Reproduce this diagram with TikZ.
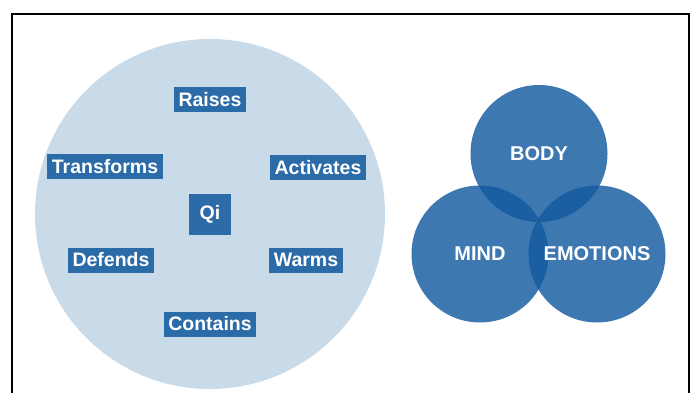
\documentclass[tikz,border=0pt]{standalone}
\usepackage{fontspec}
\setmainfont{Liberation Sans}
\definecolor{qilight}{HTML}{C9DAE8}
\definecolor{qibox}{HTML}{2B6BA8}
\definecolor{vennblue}{RGB}{20,90,160}

\begin{document}
\begin{tikzpicture}[x=1pt,y=-1pt,
	tag/.style={fill=qibox,text=white,inner xsep=4.5pt,inner ysep=0pt,minimum height=25pt,
		font=\bfseries\fontsize{19.5}{22}\selectfont},
	part/.style={circle,fill=vennblue,fill opacity=0.82,text opacity=1,text=white,
		minimum size=137pt,inner sep=0pt,font=\bfseries\fontsize{20}{22}\selectfont}]
	\useasboundingbox (0,0) rectangle (691,393);
	\draw[line width=2pt] (12,393) -- (12,14) -- (689,14) -- (689,393);
	% left circle with the actions of qi
	\node[circle,fill=qilight,minimum size=350pt,inner sep=0pt] (qizone) at (210,214) {};
	\node[tag,minimum width=42pt,minimum height=41pt] (qi) at (210,214) {Qi};
	\node[tag] (raises) at (210,100) {Raises};
	\node[tag] (transforms) at (105,167) {Transforms};
	\node[tag] (activates) at (318,168) {Activates};
	\node[tag] (defends) at (111,260) {Defends};
	\node[tag] (warms) at (306,260) {Warms};
	\node[tag] (contains) at (210,324) {Contains};
	% right: three overlapping circles
	\node[part] (body) at (539,153.5) {BODY};
	\node[part] (mind) at (480,254) {MIND};
	\node[part] (emotions) at (597,254) {EMOTIONS};
\end{tikzpicture}
\end{document}
